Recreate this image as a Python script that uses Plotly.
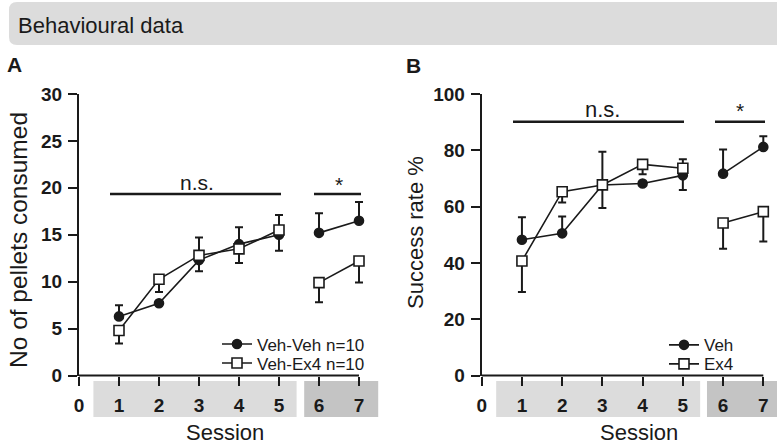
import plotly.graph_objects as go

# ---------------- data ----------------
sessions = [1, 2, 3, 4, 5, 6, 7]

# Panel A: No of pellets consumed
a_vehveh = [6.3, 7.7, 12.3, 14.0, 15.0, 15.2, 16.5]
a_vehveh_up = [1.2, 0, 0, 1.8, 0, 2.1, 2.0]
a_vehveh_dn = [0, 0, 1.2, 0, 1.7, 0, 0]
a_vehex4 = [4.8, 10.25, 12.8, 13.5, 15.5, 9.9, 12.2]
a_vehex4_up = [0, 0, 1.9, 0, 1.6, 0, 0]
a_vehex4_dn = [1.4, 1.35, 0, 1.5, 0, 2.1, 2.3]

# Panel B: Success rate %
b_veh = [48.2, 50.5, 67.7, 68.2, 71.1, 71.7, 81.2]
b_veh_up = [8.0, 6.0, 0, 0, 0, 8.6, 3.8]
b_veh_dn = [0, 0, 8.2, 0, 5.2, 0, 0]
b_ex4 = [40.7, 65.3, 67.7, 75.0, 73.6, 54.2, 58.2]
b_ex4_up = [0, 0, 11.8, 0, 3.2, 0, 0]
b_ex4_dn = [11.0, 3.8, 0, 3.5, 0, 9.2, 10.6]

x_ticks = [0, 1, 2, 3, 4, 5, 6, 7]
a_yticks = [0, 5, 10, 15, 20, 25, 30]
b_yticks = [0, 20, 40, 60, 80, 100]

names_a = ["Veh-Veh n=10", "Veh-Ex4 n=10"]
names_b = ["Veh", "Ex4"]

# ---------------- layout helpers ----------------
W, H = 777, 446
FONT = "Liberation Sans, Arial, Helvetica, sans-serif"
INK = "#1a1a1a"
LIGHT = "#dcdcdc"
DARK = "#c4c4c4"
XMAX = 7.3  # a little room right of session 7 so end markers/error bars are not clipped


def px(x):
    return x / W


def py(y):
    return 1 - y / H


fig = go.Figure()


def add_series(xs, ys, up, dn, name, symbol, fill, xa, ya, legend, first_block=5):
    blocks = [(0, first_block), (first_block, len(xs))]
    for bi, (s, e) in enumerate(blocks):
        fig.add_trace(go.Scatter(
            x=xs[s:e], y=ys[s:e], mode="lines+markers", name=name,
            xaxis=xa, yaxis=ya, legend=legend, showlegend=(bi == 0),
            cliponaxis=False,
            line=dict(color=INK, width=1.6),
            marker=dict(symbol=symbol, size=10 if symbol == "square" else 9,
                        color=fill, line=dict(color=INK, width=1.6)),
            error_y=dict(type="data", symmetric=False, array=up[s:e],
                         arrayminus=dn[s:e], color=INK, thickness=2, width=4),
        ))


add_series(sessions, a_vehveh, a_vehveh_up, a_vehveh_dn, names_a[0], "circle", INK, "x", "y", "legend")
add_series(sessions, a_vehex4, a_vehex4_up, a_vehex4_dn, names_a[1], "square", "white", "x", "y", "legend2")
add_series(sessions, b_veh, b_veh_up, b_veh_dn, names_b[0], "circle", INK, "x2", "y2", "legend3")
add_series(sessions, b_ex4, b_ex4_up, b_ex4_dn, names_b[1], "square", "white", "x2", "y2", "legend4")

tick_common = dict(ticks="outside", ticklen=9, tickwidth=2, tickcolor=INK, showgrid=False,
                   zeroline=False, tickfont=dict(family=FONT, size=19, color=INK, weight="bold"))

A_X0, A_STEP = 79, 40.0
B_X0, B_STEP = 481.7, 40.23
ydom = [py(375.5), py(94)]
fig.update_layout(
    width=W, height=H, margin=dict(l=0, r=0, t=0, b=0, autoexpand=False),
    paper_bgcolor="white", plot_bgcolor="rgba(0,0,0,0)",
    font=dict(family=FONT, color=INK),
    xaxis=dict(domain=[px(A_X0), px(A_X0 + XMAX * A_STEP)], range=[0, XMAX], tickvals=x_ticks,
               ticklabelstandoff=4, anchor="y", showline=False, **tick_common),
    yaxis=dict(domain=ydom, range=[0, 30], tickvals=a_yticks, anchor="x",
               ticklabelstandoff=2, showline=True, linecolor=INK, linewidth=2, **tick_common),
    xaxis2=dict(domain=[px(B_X0), px(B_X0 + XMAX * B_STEP)], range=[0, XMAX], tickvals=x_ticks,
                ticklabelstandoff=4, anchor="y2", showline=False, **tick_common),
    yaxis2=dict(domain=ydom, range=[0, 100], tickvals=b_yticks, anchor="x2",
                ticklabelstandoff=2, showline=True, linecolor=INK, linewidth=2, **tick_common),
)

leg_common = dict(xanchor="left", yanchor="middle", bgcolor="rgba(0,0,0,0)",
                  borderwidth=0, font=dict(family=FONT, size=17, color=INK),
                  itemwidth=30, tracegroupgap=0)
fig.update_layout(
    legend=dict(x=px(217), y=py(344.5), **leg_common),
    legend2=dict(x=px(217), y=py(363.5), **leg_common),
    legend3=dict(x=px(664), y=py(345.3), **leg_common),
    legend4=dict(x=px(664), y=py(364.3), **leg_common),
)

shapes = []
# header bar
shapes.append(dict(type="path", xref="paper", yref="paper",
                   path=f"M {px(9)},{py(10)} Q {px(9)},{py(2)} {px(17)},{py(2)} L {px(800)},{py(2)} "
                        f"L {px(800)},{py(45)} L {px(17)},{py(45)} Q {px(9)},{py(45)} {px(9)},{py(37)} Z",
                   fillcolor=LIGHT, line=dict(width=0), layer="below"))
# x-axis lines from session 0 to 7
for xr, yr in (("x", "y domain"), ("x2", "y2 domain")):
    shapes.append(dict(type="line", xref=xr, yref=yr, x0=0, x1=7, y0=0, y1=0,
                       line=dict(color=INK, width=2)))
# session boxes (in x-domain fractions of each axis)
for xr, bounds in (("x domain", [(0.36, 5.44, LIGHT), (5.63, 7.48, DARK)]),
                   ("x2 domain", [(0.36, 5.43, LIGHT), (5.6, 7.6, DARK)])):
    for a, b, c in bounds:
        shapes.append(dict(type="rect", xref=xr, yref="paper", x0=a / XMAX, x1=b / XMAX,
                           y0=py(417), y1=py(381), fillcolor=c, line=dict(width=0), layer="below"))
# significance lines
for x0, x1, yy in ((110, 281, 194), (314, 361, 194), (513, 684, 121.7), (715, 765, 121.7)):
    shapes.append(dict(type="line", xref="paper", yref="paper", x0=px(x0), x1=px(x1),
                       y0=py(yy), y1=py(yy), line=dict(color=INK, width=2.4)))
fig.update_layout(shapes=shapes)

ann = []


def text(x, y, s, size, bold=False, angle=0, xanchor="center", yanchor="middle"):
    ann.append(dict(x=px(x), y=py(y), xref="paper", yref="paper", text=s, showarrow=False,
                    xanchor=xanchor, yanchor=yanchor, textangle=angle,
                    font=dict(family=FONT, size=size, color=INK,
                              weight="bold" if bold else "normal")))


text(16, 26, "Behavioural data", 22, xanchor="left")
text(5, 65, "A", 21, bold=True, xanchor="left")
text(404, 66, "B", 21, bold=True, xanchor="left")
text(18, 240, "No of pellets consumed", 24.5, angle=-90)
text(416, 233, "Success rate %", 22, angle=-90)
text(225, 447, "Session", 22, yanchor="bottom")
text(638.5, 447, "Session", 22, yanchor="bottom")
text(197.5, 182, "n.s.", 21)
text(339, 184, "*", 21)
text(602, 109, "n.s.", 22)
text(740, 111, "*", 21)
fig.update_layout(annotations=ann)

fig.write_html("out.html")
